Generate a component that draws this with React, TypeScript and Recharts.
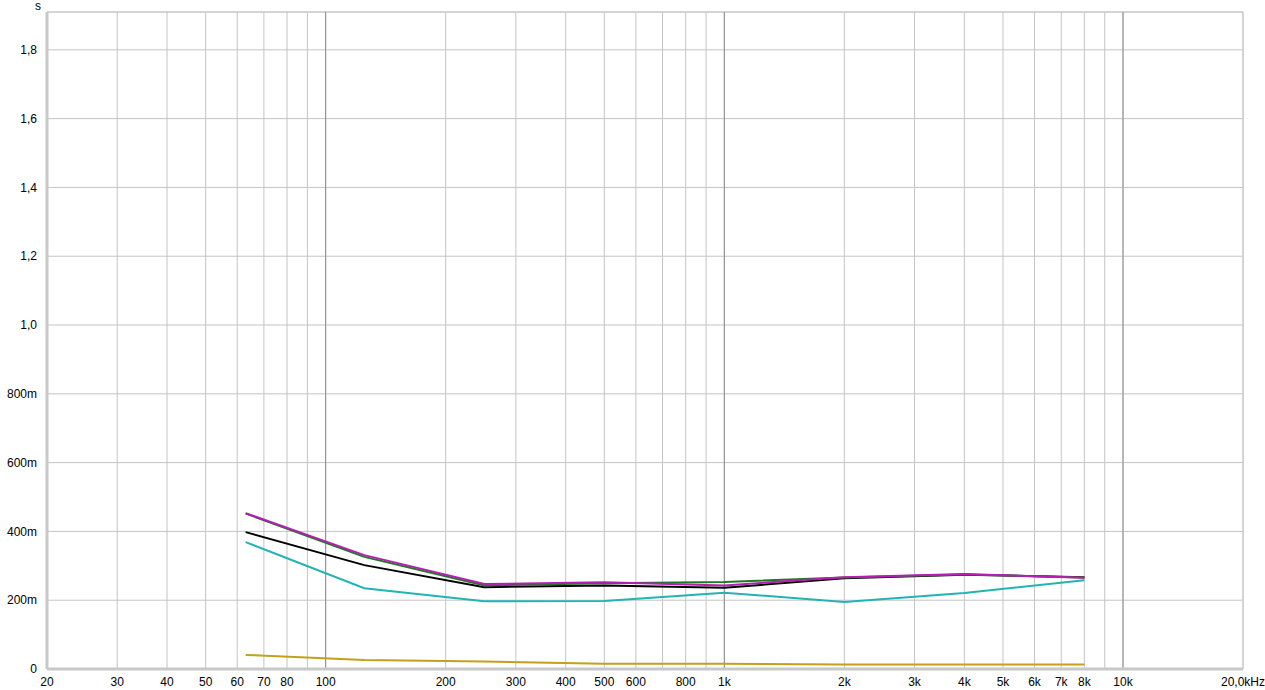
import { LineChart, Line, XAxis, YAxis, CartesianGrid, ReferenceLine, ReferenceArea } from 'recharts';

// octave band centres, Hz
const freqs = [63, 125, 250, 500, 1000, 2000, 4000, 8000];

const purple = [0.453, 0.331, 0.247, 0.252, 0.243, 0.267, 0.276, 0.265];
const green = [0.452, 0.326, 0.243, 0.249, 0.253, 0.266, 0.275, 0.266];
const black = [0.398, 0.302, 0.238, 0.243, 0.236, 0.264, 0.274, 0.267];
const teal = [0.369, 0.235, 0.197, 0.198, 0.222, 0.195, 0.221, 0.258];
const gold = [0.041, 0.026, 0.022, 0.015, 0.015, 0.013, 0.013, 0.013];

const xTicks = [20, 30, 40, 50, 60, 70, 80, 90, 100, 200, 300, 400, 500, 600, 700, 800, 900, 1000, 2000, 3000, 4000, 5000, 6000, 7000, 8000, 9000, 10000, 20000];
const xLabels = ['20', '30', '40', '50', '60', '70', '80', '', '100', '200', '300', '400', '500', '600', '', '800', '', '1k', '2k', '3k', '4k', '5k', '6k', '7k', '8k', '', '10k', '20,0kHz'];
const majors = [100, 1000, 10000];

const yTicks = [0, 0.2, 0.4, 0.6, 0.8, 1.0, 1.2, 1.4, 1.6, 1.8];
const yLabels = ['0', '200m', '400m', '600m', '800m', '1,0', '1,2', '1,4', '1,6', '1,8'];

const data = freqs.map((f, i) => ({ f, purple: purple[i], green: green[i], black: black[i], teal: teal[i], gold: gold[i] }));

const FONT = { fontSize: 12, fill: '#000', fontFamily: 'Liberation Sans, Arial, sans-serif' };
const GRID = '#c4c4c4';

export default function App() {
  return (
    <div style={{ position: 'absolute', left: 0, top: 0, width: 1265, height: 690, background: '#fff' }}>
      <div style={{ position: 'absolute', left: 35, top: 0, fontSize: 12, lineHeight: '12px', fontFamily: 'Liberation Sans, Arial, sans-serif' }}>s</div>
      <LineChart width={1265} height={690} data={data} margin={{ top: 12, right: 22, bottom: 0, left: 0 }}>
        <CartesianGrid stroke={GRID} />
        {majors.map((m) => (
          <ReferenceLine key={m} x={m} stroke="#8c8c8c" />
        ))}
        <ReferenceArea x1={20} x2={20000} y1={0} y2={1.91} fill="none" stroke="#c8c8c8" strokeWidth={1} />
        <XAxis
          dataKey="f"
          type="number"
          scale="log"
          domain={[20, 20000]}
          ticks={xTicks}
          interval={0}
          allowDataOverflow
          tickFormatter={(v: number) => xLabels[xTicks.indexOf(v)] ?? ''}
          tick={FONT}
          tickLine={false}
          axisLine={{ stroke: '#c8c8c8', strokeWidth: 3 }}
          height={21}
          tickMargin={2}
        />
        <YAxis
          type="number"
          domain={[0, 1.91]}
          ticks={yTicks}
          interval={0}
          allowDataOverflow
          tickFormatter={(v: number) => yLabels[yTicks.findIndex((t) => Math.abs(t - v) < 1e-6)] ?? ''}
          tick={FONT}
          tickLine={false}
          axisLine={{ stroke: '#c8c8c8', strokeWidth: 3 }}
          width={47}
          tickMargin={4}
        />
        <Line dataKey="gold" stroke="#c4a01c" strokeWidth={2} dot={false} isAnimationActive={false} />
        <Line dataKey="teal" stroke="#22b4b4" strokeWidth={2} dot={false} isAnimationActive={false} />
        <Line dataKey="black" stroke="#000000" strokeWidth={2} dot={false} isAnimationActive={false} />
        <Line dataKey="green" stroke="#1e7a1e" strokeWidth={2} dot={false} isAnimationActive={false} />
        <Line dataKey="purple" stroke="#b41eb4" strokeWidth={2} dot={false} isAnimationActive={false} />
      </LineChart>
    </div>
  );
}
